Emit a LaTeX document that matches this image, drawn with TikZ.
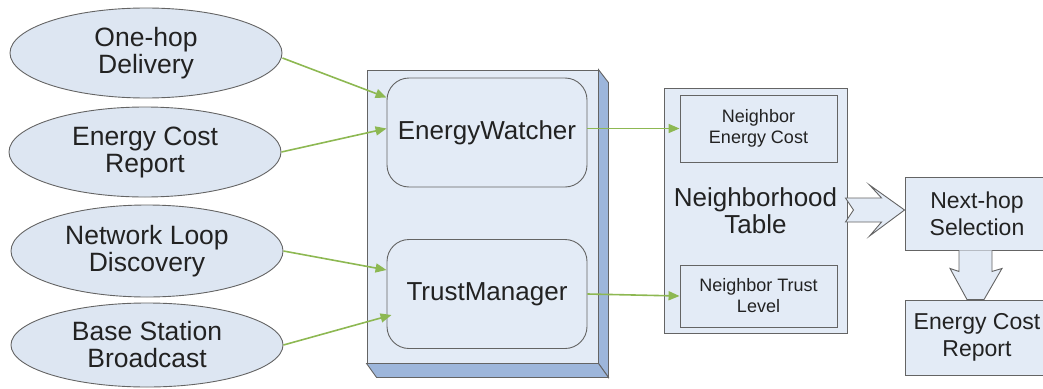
\documentclass[tikz,border=0pt]{standalone}
\usepackage{fontspec}
\setmainfont{Liberation Sans}
\usetikzlibrary{arrows.meta,shapes.geometric,calc}
\definecolor{ellfill}{HTML}{DDE6F2}
\definecolor{boxfill}{HTML}{E3EBF6}
\definecolor{sidefill}{HTML}{9DB6DB}
\definecolor{edge}{HTML}{646464}
\definecolor{txt}{HTML}{222222}
\definecolor{grn}{HTML}{8DB852}
\tikzset{
  ell/.style={ellipse, draw=edge, line width=0.9pt, fill=ellfill, inner sep=0pt,
    minimum width=272pt, align=center, text=txt, font=\fontsize{26.5}{27}\selectfont},
  rbox/.style={draw=edge, line width=0.9pt, fill=boxfill, rounded corners=22pt,
    minimum width=200pt, minimum height=109pt, align=center, text=txt,
    font=\fontsize{26}{28}\selectfont},
  sqbox/.style={draw=edge, line width=0.9pt, fill=boxfill, inner sep=0pt, align=center, text=txt},
  garrow/.style={draw=grn, line width=1.6pt, -{Triangle[length=11pt,width=9pt]}},
  blockarr/.style={draw=edge, line width=0.9pt, fill=boxfill, line join=miter},
}
\begin{document}
\begin{tikzpicture}[x=1pt,y=-1pt]
\useasboundingbox (0,0) rectangle (1043,388);
% ellipses
\node[ell, minimum height=90pt] (e1) at (146,53) {One-hop\\Delivery};
\node[ell, minimum height=90pt] (e2) at (145,152) {Energy Cost\\Report};
\node[ell, minimum height=92pt] (e3) at (147,251) {Network Loop\\Discovery};
\node[ell, minimum height=84pt] (e4) at (147,345) {Base Station\\Broadcast};
% 3D container
\node[sqbox, minimum width=231pt, minimum height=293pt] (big) at (482.5,216.5) {};
\draw[edge, line width=0.9pt, fill=sidefill] (big.north east) -- ++(10,13) -- ($(big.south east)+(10,14)$) -- (big.south east) -- cycle;
\draw[edge, line width=0.9pt, fill=sidefill] (big.south west) -- ++(10,14) -- ($(big.south east)+(10,14)$) -- (big.south east) -- cycle;
\node[rbox] (ew) at (487,132.5) {EnergyWatcher};
\node[rbox] (tm) at (487,294) {TrustManager};
% neighborhood table
\node[sqbox, minimum width=183pt, minimum height=245pt, font=\fontsize{26}{27}\selectfont] (nt) at (755.5,210.5) {Neighborhood\\Table};
\node[sqbox, minimum width=157pt, minimum height=67pt, font=\fontsize{18}{21}\selectfont] (nec) at (758.5,128.5) {Neighbor\\Energy Cost};
\node[sqbox, minimum width=157pt, minimum height=62pt, font=\fontsize{18}{21}\selectfont] (ntl) at (758.5,296) {Neighbor Trust\\Level};
% right boxes
\node[sqbox, minimum width=144pt, minimum height=73pt, font=\fontsize{23}{27}\selectfont] (ns) at (977,213.5) {Next-hop\\Selection};
\node[sqbox, minimum width=144pt, minimum height=75pt, font=\fontsize{23}{27}\selectfont] (ecr) at (977,337.5) {Energy Cost\\Report};
% green connectors
\draw[garrow] ([yshift=-5pt]e1.east) -- ([yshift=35pt]ew.west);
\draw[garrow] (e2.east) -- ([yshift=4pt]ew.west);
\draw[garrow] (e3.east) -- ([yshift=24pt]tm.west);
\draw[garrow] (e4.east) -- ([xshift=5pt,yshift=-21pt]tm.west);
\draw[garrow] (ew.east |- nec.west) -- (nec.west);
\draw[garrow] (tm.east) -- (ntl.west);
% block arrows
\draw[blockarr] ($(nt.east)+(-2,-12.5)$) -- ($(ns.west)+(-23,-15.5)$) -- ($(ns.west)+(-35,-28.5)$)
  -- ($(ns.west)+(0,-3.5)$) -- ($(ns.west)+(-35,22.5)$) -- ($(ns.west)+(-23,8.5)$)
  -- ($(nt.east)+(-2,11.5)$) -- ($(nt.east)+(6,-0.5)$) -- cycle;
\draw[blockarr] ($(ns.south)+(-18,0)$) -- ($(ns.south)+(-18,21)$) -- ($(ns.south)+(-27,18)$)
  -- ($(ecr.north)+(-10,0)$) -- ($(ecr.north)+(7,0)$) -- ($(ns.south)+(25,18)$)
  -- ($(ns.south)+(15,21)$) -- ($(ns.south)+(15,0)$);
\end{tikzpicture}
\end{document}
